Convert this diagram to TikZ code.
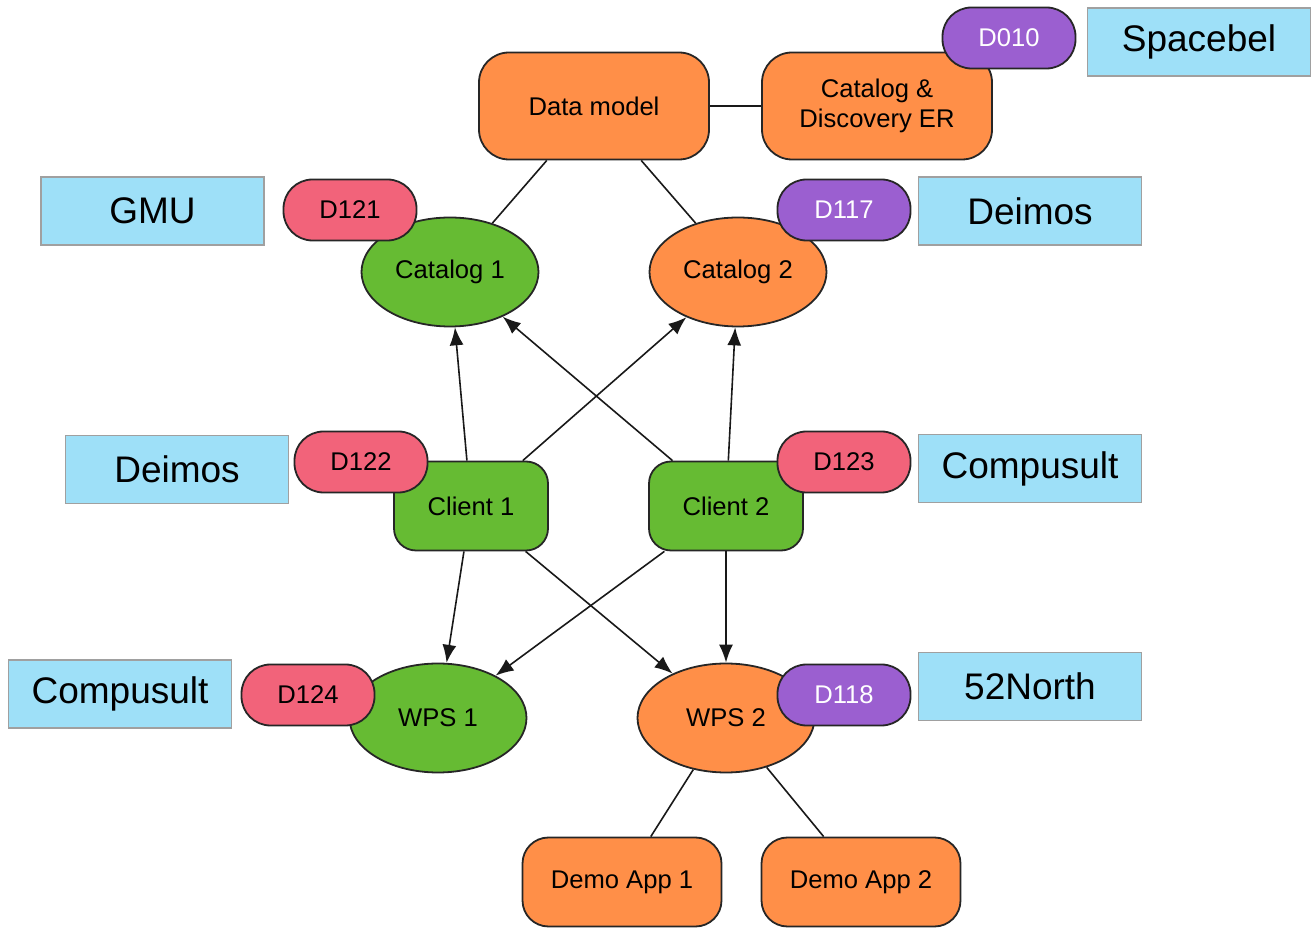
\documentclass[tikz,border=0pt]{standalone}
\usepackage{fontspec}
\setmainfont{Liberation Sans}
\usetikzlibrary{arrows.meta,backgrounds,shapes.geometric}
\definecolor{orng}{HTML}{FF8F48}
\definecolor{grn}{HTML}{66BB33}
\definecolor{pnk}{HTML}{F2637A}
\definecolor{prp}{HTML}{9B5FD0}
\definecolor{lblue}{HTML}{9EE0F8}
\definecolor{bgray}{HTML}{A0A0A0}
\tikzset{
  base/.style={draw=black!85,line width=0.9pt,inner sep=0pt,font=\fontsize{12.8}{15}\selectfont,align=center},
  orect/.style={base,fill=orng,rounded corners=15pt,minimum width=115pt,minimum height=53.5pt},
  demo/.style={base,fill=orng,rounded corners=13pt,minimum width=99.5pt,minimum height=44.5pt},
  client/.style={base,fill=grn,rounded corners=11pt,minimum width=77pt,minimum height=44.5pt},
  ell/.style={base,ellipse,minimum width=88.5pt,minimum height=54.5pt},
  pill/.style={base,rounded corners=14.5pt,minimum width=66.5pt,minimum height=30.5pt},
  ppill/.style={pill,fill=prp,text=white},
  rpill/.style={pill,fill=pnk},
  org/.style={draw=bgray,line width=0.6pt,fill=lblue,minimum width=111.5pt,minimum height=34pt,inner sep=0pt,font=\fontsize{18.5}{21}\selectfont},
  conn/.style={draw=black!90,line width=0.8pt},
  arr/.style={conn,-{Latex[length=9pt,width=7pt]}}
}
\begin{document}
\begin{tikzpicture}[x=0.5pt,y=-0.5pt]
\useasboundingbox (0,0) rectangle (1312,929);
% main nodes
\node[orect] (dm) at (594,106) {Data model};
\node[orect] (cd) at (877,106) {Catalog \&\\Discovery ER};
\node[ell,fill=grn] (cat1) at (450,272) {Catalog 1};
\node[ell,fill=orng] (cat2) at (738,272) {Catalog 2};
\node[client] (cl1) at (471,506) {Client 1};
\node[client] (cl2) at (726,506) {Client 2};
\node[ell,fill=grn] (wps1) at (438,718) {WPS 1};
\node[ell,fill=orng] (wps2) at (726,718) {WPS 2};
\node[demo] (da1) at (622,882) {Demo App 1};
\node[demo] (da2) at (861,882) {Demo App 2};
% pills
\node[ppill] (d010) at (1009,38) {D010};
\node[rpill] (d121) at (350,210) {D121};
\node[ppill] (d117) at (844,210) {D117};
\node[rpill] (d122) at (361,462) {D122};
\node[rpill] (d123) at (844,462) {D123};
\node[rpill] (d124) at (308,695) {D124};
\node[ppill] (d118) at (844,695) {D118};
% organisations
\node[org] (spacebel) at (1199,42) {Spacebel};
\node[org] (gmu) at (152.5,211) {GMU};
\node[org] (deimos1) at (1030,211) {Deimos};
\node[org] (deimos2) at (177,469.5) {Deimos};
\node[org] (comp1) at (1030,468.5) {Compusult};
\node[org] (comp2) at (120,694) {Compusult};
\node[org] (north) at (1030,686.5) {52North};
% connectors
\begin{scope}[on background layer]
\draw[conn] (dm) -- (cd);
\draw[conn] (dm) -- (cat1);
\draw[conn] (dm) -- (cat2);
\draw[conn] (wps2) -- (da1);
\draw[conn] (wps2) -- (da2);
\end{scope}
\draw[arr] (cl1) -- (cat1);
\draw[arr] (cl1) -- (cat2);
\draw[arr] (cl2) -- (cat1);
\draw[arr] (cl2) -- (cat2);
\draw[arr] (cl1) -- (wps1);
\draw[arr] (cl1) -- (wps2);
\draw[arr] (cl2) -- (wps1);
\draw[arr] (cl2) -- (wps2);
\end{tikzpicture}
\end{document}
